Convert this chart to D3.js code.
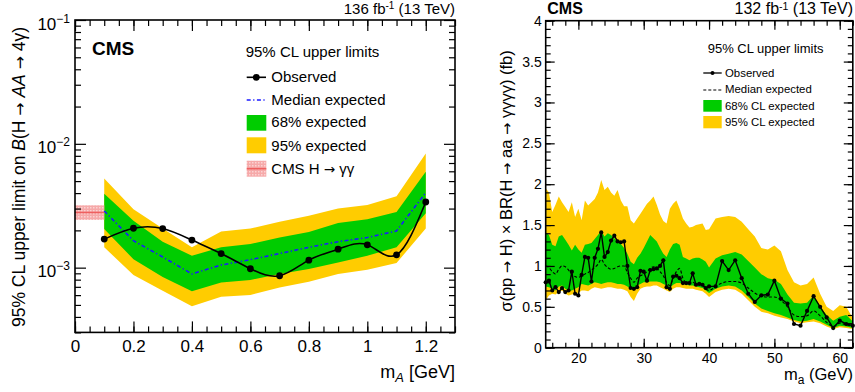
<!DOCTYPE html>
<html>
<head>
<meta charset="utf-8">
<script src="https://cdn.jsdelivr.net/npm/d3@7"></script>
<style>
  body { margin: 0; background: #fff; }
  svg { display: block; font-family: "Liberation Sans", Arial, sans-serif; }
</style>
</head>
<body>
<div id="app"></div>
<script>
// ---- left panel: H -> AA -> 4 gamma, limits on branching fraction
const leftMass = [0.1, 0.2, 0.3, 0.4, 0.5, 0.6, 0.7, 0.8, 0.9, 1.0, 1.1, 1.2];
const leftObs = [1.70e-3, 2.08e-3, 2.07e-3, 1.67e-3, 1.30e-3, 0.98e-3, 0.86e-3, 1.15e-3, 1.41e-3, 1.53e-3, 1.27e-3, 3.39e-3];
const leftExp = [2.87e-3, 1.65e-3, 1.22e-3, 0.89e-3, 1.05e-3, 1.16e-3, 1.30e-3, 1.46e-3, 1.62e-3, 1.75e-3, 1.98e-3, 4.03e-3];
const left68Hi = [3.96e-3, 2.39e-3, 1.62e-3, 1.25e-3, 1.46e-3, 1.55e-3, 1.75e-3, 1.94e-3, 2.29e-3, 2.46e-3, 2.82e-3, 5.96e-3];
const left68Lo = [2.05e-3, 1.17e-3, 0.84e-3, 0.645e-3, 0.76e-3, 0.795e-3, 0.89e-3, 0.975e-3, 1.10e-3, 1.25e-3, 1.46e-3, 2.75e-3];
const left95Hi = [5.26e-3, 2.96e-3, 2.07e-3, 1.46e-3, 1.96e-3, 2.07e-3, 2.35e-3, 2.62e-3, 3.01e-3, 3.21e-3, 3.78e-3, 8.36e-3];
const left95Lo = [1.46e-3, 0.873e-3, 0.652e-3, 0.489e-3, 0.583e-3, 0.602e-3, 0.693e-3, 0.771e-3, 0.889e-3, 0.962e-3, 1.09e-3, 2.07e-3];
const hggMass = [0, 0.1];
const hggBand = [2.43e-3, 2.79e-3, 3.19e-3]; // low, central, high
const leftXTicks = [0, 0.2, 0.4, 0.6, 0.8, 1, 1.2];
const leftYTicks = [1e-3, 1e-2, 1e-1];
const leftYExp = ["\u22123", "\u22122", "\u22121"];

// ---- right panel: H -> aa -> 4 gamma, limits on cross section x BR (fb)
const rightMass = [15, 15.5, 16, 16.5, 17, 17.5, 18, 18.5, 19, 19.5, 20, 20.5, 21, 21.5, 22, 22.5, 23, 23.5, 24, 24.5,
  25, 25.5, 26, 26.5, 27, 27.5, 28, 28.5, 29, 29.5, 30, 30.5, 31, 31.5, 32, 32.5, 33, 33.5, 34, 34.5,
  35, 35.5, 36, 36.5, 37, 37.5, 38, 38.5, 39, 39.5, 40, 41, 42, 43, 44, 45, 46, 47, 48, 49,
  50, 51, 52, 53, 54, 55, 56, 57, 58, 59, 60, 61, 62];
const rightObs = [0.80, 0.82, 0.70, 0.74, 0.68, 0.73, 0.68, 0.70, 0.93, 0.66, 0.64, 0.89, 1.11, 1.10, 0.81, 1.10, 1.21, 1.41, 1.11, 1.17,
  1.31, 1.37, 1.30, 1.29, 1.30, 1.00, 0.73, 0.72, 0.74, 0.94, 0.93, 0.82, 0.95, 0.96, 0.97, 1.00, 1.07, 0.74, 0.72, 0.87,
  0.88, 0.85, 0.79, 0.79, 0.79, 0.91, 0.77, 0.78, 0.77, 0.73, 0.75, 0.75, 1.06, 0.95, 1.07, 0.85, 0.66, 0.56, 0.64, 0.65,
  0.82, 0.60, 0.54, 0.29, 0.27, 0.45, 0.63, 0.50, 0.37, 0.24, 0.33, 0.29, 0.27];
const rightExp = [1.00, 0.98, 0.93, 0.90, 0.96, 1.00, 0.99, 0.95, 0.90, 0.87, 0.86, 0.88, 0.90, 0.92, 0.95, 0.98, 1.02, 1.08, 1.02, 0.98,
  0.96, 0.97, 0.99, 1.00, 1.00, 0.92, 0.85, 0.80, 0.85, 0.88, 0.90, 0.93, 0.97, 0.99, 0.97, 0.93, 0.88, 0.80, 0.76, 0.85,
  0.93, 0.97, 0.85, 0.80, 0.80, 0.80, 0.78, 0.77, 0.76, 0.72, 0.70, 0.75, 0.79, 0.81, 0.81, 0.79, 0.73, 0.67, 0.63, 0.62,
  0.62, 0.58, 0.50, 0.40, 0.38, 0.39, 0.45, 0.39, 0.31, 0.26, 0.30, 0.28, 0.26];
const right68Hi = [1.41, 1.38, 1.26, 1.24, 1.36, 1.38, 1.32, 1.26, 1.19, 1.26, 1.20, 1.16, 1.26, 1.27, 1.28, 1.33, 1.38, 1.43, 1.36, 1.40,
  1.38, 1.34, 1.30, 1.27, 1.22, 1.15, 1.05, 1.02, 1.10, 1.15, 1.22, 1.30, 1.38, 1.34, 1.30, 1.22, 1.15, 1.11, 1.20, 1.27,
  1.28, 1.26, 1.11, 1.09, 1.07, 1.09, 1.10, 1.10, 1.08, 1.05, 0.98, 1.09, 1.13, 1.15, 1.17, 1.14, 1.06, 0.98, 0.90, 0.85,
  0.83, 0.78, 0.65, 0.55, 0.54, 0.55, 0.64, 0.50, 0.40, 0.33, 0.38, 0.40, 0.32];
const right68Lo = [0.75, 0.74, 0.72, 0.70, 0.75, 0.76, 0.72, 0.70, 0.70, 0.72, 0.74, 0.78, 0.77, 0.76, 0.78, 0.80, 0.79, 0.78, 0.79, 0.80,
  0.80, 0.79, 0.78, 0.78, 0.77, 0.75, 0.72, 0.72, 0.76, 0.78, 0.80, 0.80, 0.81, 0.81, 0.81, 0.80, 0.78, 0.76, 0.73, 0.77,
  0.79, 0.79, 0.78, 0.77, 0.76, 0.76, 0.75, 0.74, 0.73, 0.70, 0.67, 0.72, 0.75, 0.76, 0.75, 0.70, 0.62, 0.54, 0.48, 0.45,
  0.42, 0.40, 0.37, 0.34, 0.32, 0.33, 0.35, 0.32, 0.28, 0.24, 0.27, 0.26, 0.24];
const right95Hi = [1.95, 1.90, 1.66, 1.75, 1.85, 1.78, 1.72, 1.66, 1.78, 1.60, 1.70, 1.56, 1.80, 1.74, 1.78, 1.82, 1.90, 2.05, 1.93, 1.97,
  1.90, 1.86, 1.93, 1.80, 1.73, 1.73, 1.56, 1.52, 1.58, 1.64, 1.70, 1.76, 1.80, 1.85, 1.75, 1.63, 1.55, 1.52, 1.70, 1.76,
  1.80, 1.70, 1.58, 1.52, 1.47, 1.48, 1.50, 1.51, 1.52, 1.44, 1.45, 1.58, 1.60, 1.61, 1.60, 1.54, 1.45, 1.36, 1.22, 1.20,
  1.25, 1.18, 0.95, 0.80, 0.76, 0.78, 0.86, 0.66, 0.50, 0.45, 0.52, 0.50, 0.36];
const right95Lo = [0.58, 0.64, 0.66, 0.65, 0.68, 0.70, 0.66, 0.64, 0.65, 0.66, 0.67, 0.70, 0.70, 0.69, 0.72, 0.74, 0.73, 0.72, 0.73, 0.74,
  0.74, 0.73, 0.72, 0.72, 0.71, 0.69, 0.62, 0.57, 0.66, 0.72, 0.74, 0.75, 0.75, 0.76, 0.76, 0.74, 0.72, 0.70, 0.68, 0.72,
  0.74, 0.74, 0.73, 0.72, 0.72, 0.72, 0.71, 0.70, 0.69, 0.66, 0.62, 0.68, 0.71, 0.72, 0.71, 0.66, 0.58, 0.50, 0.44, 0.42,
  0.39, 0.37, 0.35, 0.32, 0.30, 0.31, 0.32, 0.30, 0.26, 0.23, 0.25, 0.24, 0.23];
const rightXTicks = [20, 30, 40, 50, 60];
const rightYTicks = [0, 0.5, 1, 1.5, 2, 2.5, 3, 3.5, 4];

const green = "#00cc00";
const yellow = "#ffcc00";
const font = "Liberation Sans, Arial, sans-serif";

const svg = d3.select("#app").append("svg").attr("width", 855).attr("height", 392);

const defs = svg.append("defs");
const pat = defs.append("pattern").attr("id", "hgg").attr("width", 3).attr("height", 3)
  .attr("patternUnits", "userSpaceOnUse");
pat.append("rect").attr("width", 3).attr("height", 3).attr("fill", "#f6a9a9");
pat.append("rect").attr("width", 1.5).attr("height", 1.5).attr("fill", "#fbd3d3");

// writes text into a <text>, arrows get a font with a proper long arrow
function richText(t, str) {
  str.split("\u2192").forEach((part, i) => {
    if (i > 0) t.append("tspan").attr("font-family", "DejaVu Sans").attr("font-size", "0.9em").text("\u2192");
    if (part) t.append("tspan").text(part);
  });
  return t;
}

// ROOT style: ticks inside the frame on all four sides
function drawFrame(g, x, y, box, o) {
  const style = a => a.attr("font-family", font).attr("font-size", o.fontSize)
    .call(s => s.select(".domain").remove())
    .call(s => s.selectAll(".tick line").attr("stroke-width", 1.2));
  g.append("g").attr("transform", `translate(0,${box.bottom})`)
    .call(d3.axisBottom(x).tickValues(o.xMajor).tickSize(-o.major).tickPadding(o.xPad).tickFormat(d => d)).call(style);
  g.append("g").attr("transform", `translate(0,${box.bottom})`)
    .call(d3.axisBottom(x).tickValues(o.xMinor).tickSize(-o.minor).tickFormat("")).call(style);
  g.append("g").attr("transform", `translate(0,${box.top})`)
    .call(d3.axisTop(x).tickValues(o.xMajor).tickSize(-o.major).tickFormat("")).call(style);
  g.append("g").attr("transform", `translate(0,${box.top})`)
    .call(d3.axisTop(x).tickValues(o.xMinor).tickSize(-o.minor).tickFormat("")).call(style);
  g.append("g").attr("transform", `translate(${box.left},0)`)
    .call(d3.axisLeft(y).tickValues(o.yMajor).tickSize(-o.major).tickPadding(o.yPad).tickFormat(o.yFormat)).call(style);
  g.append("g").attr("transform", `translate(${box.left},0)`)
    .call(d3.axisLeft(y).tickValues(o.yMinor).tickSize(-o.minor).tickFormat("")).call(style);
  g.append("g").attr("transform", `translate(${box.right},0)`)
    .call(d3.axisRight(y).tickValues(o.yMajor).tickSize(-o.major).tickFormat("")).call(style);
  g.append("g").attr("transform", `translate(${box.right},0)`)
    .call(d3.axisRight(y).tickValues(o.yMinor).tickSize(-o.minor).tickFormat("")).call(style);
  g.append("rect").attr("x", box.left).attr("y", box.top)
    .attr("width", box.right - box.left).attr("height", box.bottom - box.top)
    .attr("fill", "none").attr("stroke", "black").attr("stroke-width", 1.6);
}

// ================= LEFT =================
const L = { left: 75, right: 455, top: 20, bottom: 332.4 };
const xL = d3.scaleLinear().domain([0, 1.3]).range([L.left, L.right]);
const yL = d3.scaleLog().domain([3e-4, 0.1]).range([L.bottom, L.top]);
const gL = svg.append("g");

const leftRows = leftMass.map((m, i) => ({
  m, obs: leftObs[i], exp: leftExp[i],
  lo68: left68Lo[i], hi68: left68Hi[i], lo95: left95Lo[i], hi95: left95Hi[i]
}));

gL.append("path").datum(leftRows).attr("fill", yellow)
  .attr("d", d3.area().x(d => xL(d.m)).y0(d => yL(d.lo95)).y1(d => yL(d.hi95)));
gL.append("path").datum(leftRows).attr("fill", green)
  .attr("d", d3.area().x(d => xL(d.m)).y0(d => yL(d.lo68)).y1(d => yL(d.hi68)));

// CMS H -> gamma gamma band
gL.append("rect").attr("x", xL(hggMass[0])).attr("width", xL(hggMass[1]) - xL(hggMass[0]))
  .attr("y", yL(hggBand[2])).attr("height", yL(hggBand[0]) - yL(hggBand[2])).attr("fill", "url(#hgg)");
gL.append("line").attr("x1", xL(hggMass[0])).attr("x2", xL(hggMass[1]))
  .attr("y1", yL(hggBand[1])).attr("y2", yL(hggBand[1])).attr("stroke", "#ee5f5f").attr("stroke-width", 1.6);

gL.append("path").datum(leftRows).attr("fill", "none").attr("stroke", "#1a1aff")
  .attr("stroke-width", 1.6).attr("stroke-dasharray", "4,2.5,1.2,2.5")
  .attr("d", d3.line().x(d => xL(d.m)).y(d => yL(d.exp)));
gL.append("path").datum(leftRows).attr("fill", "none").attr("stroke", "black").attr("stroke-width", 1.6)
  .attr("d", d3.line().curve(d3.curveNatural).x(d => xL(d.m)).y(d => yL(d.obs)));
gL.selectAll("circle.obs").data(leftRows).join("circle").attr("class", "obs")
  .attr("cx", d => xL(d.m)).attr("cy", d => yL(d.obs)).attr("r", 3.4).attr("fill", "black");

const leftMinorY = [];
[1e-4, 1e-3, 1e-2].forEach(dec => [2, 3, 4, 5, 6, 7, 8, 9].forEach(k => {
  const v = k * dec;
  if (v >= 3e-4 && v < 0.1) leftMinorY.push(v);
}));
drawFrame(gL, xL, yL, L, {
  xMajor: leftXTicks, xMinor: d3.range(0, 1.3001, 0.05), yMajor: leftYTicks, yMinor: leftMinorY,
  major: 11, minor: 6, xPad: 8, yPad: 4, fontSize: 17, yFormat: ""
});
// 10^n labels
leftYTicks.forEach((v, i) => {
  const t = gL.append("text").attr("x", 70).attr("y", yL(v) + 9.5).attr("text-anchor", "end")
    .attr("font-size", 17);
  t.append("tspan").text("10");
  t.append("tspan").attr("dy", -7).attr("font-size", 12).text(leftYExp[i]);
});

gL.append("text").attr("x", 92).attr("y", 55).attr("font-size", 19).attr("font-weight", "bold").text("CMS");
const lumL = gL.append("text").attr("x", 455).attr("y", 14).attr("text-anchor", "end").attr("font-size", 15);
lumL.append("tspan").text("136 fb");
lumL.append("tspan").attr("dy", -5).attr("font-size", 10).text("-1");
lumL.append("tspan").attr("dy", 5).text(" (13 TeV)");

const xtL = gL.append("text").attr("x", 455).attr("y", 378).attr("text-anchor", "end").attr("font-size", 18);
xtL.append("tspan").text("m");
xtL.append("tspan").attr("dy", 4).attr("font-size", 13).attr("font-style", "italic").text("A");
xtL.append("tspan").attr("dy", -4).text(" [GeV]");

const ytL = gL.append("text").attr("transform", "translate(24.6,177) rotate(-90)")
  .attr("text-anchor", "middle").attr("font-size", 17.5);
ytL.append("tspan").text("95% CL upper limit on ");
ytL.append("tspan").attr("font-style", "italic").text("B");
richText(ytL, "(H \u2192 ");
ytL.append("tspan").attr("font-style", "italic").text("AA");
richText(ytL, " \u2192 4\u03b3)");

// legend
const lgL = gL.append("g").attr("font-size", 15);
lgL.append("text").attr("x", 245.7).attr("y", 57.3).text("95% CL upper limits");
lgL.append("line").attr("x1", 246.7).attr("x2", 266).attr("y1", 77.3).attr("y2", 77.3)
  .attr("stroke", "black").attr("stroke-width", 1.6);
lgL.append("circle").attr("cx", 256.3).attr("cy", 77.3).attr("r", 3.4);
lgL.append("text").attr("x", 271.3).attr("y", 82).text("Observed");
lgL.append("line").attr("x1", 246.7).attr("x2", 266).attr("y1", 100).attr("y2", 100)
  .attr("stroke", "#1a1aff").attr("stroke-width", 1.6).attr("stroke-dasharray", "4,2.5,1.2,2.5");
lgL.append("text").attr("x", 271.3).attr("y", 105).text("Median expected");
lgL.append("rect").attr("x", 246.7).attr("y", 115).attr("width", 19.6).attr("height", 15.7).attr("fill", green);
lgL.append("text").attr("x", 271.3).attr("y", 127.3).text("68% expected");
lgL.append("rect").attr("x", 246.7).attr("y", 137.3).attr("width", 19.6).attr("height", 16).attr("fill", yellow);
lgL.append("text").attr("x", 271.3).attr("y", 150.7).text("95% expected");
lgL.append("rect").attr("x", 246.7).attr("y", 160.7).attr("width", 19.6).attr("height", 16).attr("fill", "url(#hgg)");
lgL.append("line").attr("x1", 246.7).attr("x2", 266.3).attr("y1", 168.7).attr("y2", 168.7)
  .attr("stroke", "#ee5f5f").attr("stroke-width", 1.6);
richText(lgL.append("text").attr("x", 271.3).attr("y", 174), "CMS H \u2192 \u03b3\u03b3");

// ================= RIGHT =================
const R = { left: 545.7, right: 852.8, top: 20.7, bottom: 347.7 };
const xR = d3.scaleLinear().domain([15, 62]).range([R.left, R.right]);
const yR = d3.scaleLinear().domain([0, 4]).range([R.bottom, R.top]);
const gR = svg.append("g");

const rightRows = rightMass.map((m, i) => ({
  m, obs: rightObs[i], exp: rightExp[i],
  lo68: right68Lo[i], hi68: right68Hi[i], lo95: right95Lo[i], hi95: right95Hi[i]
}));

gR.append("path").datum(rightRows).attr("fill", yellow)
  .attr("d", d3.area().x(d => xR(d.m)).y0(d => yR(d.lo95)).y1(d => yR(d.hi95)));
gR.append("path").datum(rightRows).attr("fill", green)
  .attr("d", d3.area().x(d => xR(d.m)).y0(d => yR(d.lo68)).y1(d => yR(d.hi68)));
gR.append("path").datum(rightRows).attr("fill", "none").attr("stroke", "black")
  .attr("stroke-width", 1.1).attr("stroke-dasharray", "3,2")
  .attr("d", d3.line().curve(d3.curveMonotoneX).x(d => xR(d.m)).y(d => yR(d.exp)));
gR.append("path").datum(rightRows).attr("fill", "none").attr("stroke", "black").attr("stroke-width", 1.4)
  .attr("d", d3.line().x(d => xR(d.m)).y(d => yR(d.obs)));
gR.selectAll("circle.obs").data(rightRows).join("circle").attr("class", "obs")
  .attr("cx", d => xR(d.m)).attr("cy", d => yR(d.obs)).attr("r", 2.1).attr("fill", "black");

drawFrame(gR, xR, yR, R, {
  xMajor: rightXTicks, xMinor: d3.range(16, 62.01, 2), yMajor: rightYTicks, yMinor: d3.range(0, 4.001, 0.1),
  major: 9, minor: 5, xPad: 5, yPad: 4, fontSize: 14, yFormat: d => d
});

gR.append("text").attr("x", 547.3).attr("y", 14).attr("font-size", 16).attr("font-weight", "bold").text("CMS");
const lumR = gR.append("text").attr("x", 853).attr("y", 14).attr("text-anchor", "end").attr("font-size", 16);
lumR.append("tspan").text("132 fb");
lumR.append("tspan").attr("dy", -4.5).attr("font-size", 10.5).text("-1");
lumR.append("tspan").attr("dy", 4.5).text(" (13 TeV)");

const xtR = gR.append("text").attr("x", 853).attr("y", 380).attr("text-anchor", "end").attr("font-size", 16.5);
xtR.append("tspan").text("m");
xtR.append("tspan").attr("dy", 4).attr("font-size", 12).text("a");
xtR.append("tspan").attr("dy", -4).text(" (GeV)");

richText(gR.append("text").attr("transform", "translate(511.5,181) rotate(-90)")
  .attr("text-anchor", "middle").attr("font-size", 16.5),
  "\u03c3(pp \u2192 H) \u00d7 BR(H \u2192 aa \u2192 \u03b3\u03b3\u03b3\u03b3) (fb)");

const lgR = gR.append("g").attr("font-size", 11.4);
lgR.append("text").attr("x", 707.7).attr("y", 52.7).attr("font-size", 13).text("95% CL upper limits");
lgR.append("line").attr("x1", 703.3).attr("x2", 721.7).attr("y1", 73).attr("y2", 73)
  .attr("stroke", "black").attr("stroke-width", 1.3);
lgR.append("circle").attr("cx", 712.5).attr("cy", 73).attr("r", 2);
lgR.append("text").attr("x", 725).attr("y", 76.7).text("Observed");
lgR.append("line").attr("x1", 703.3).attr("x2", 721.7).attr("y1", 90).attr("y2", 90)
  .attr("stroke", "black").attr("stroke-width", 1.1).attr("stroke-dasharray", "3,2");
lgR.append("text").attr("x", 725).attr("y", 93.3).text("Median expected");
lgR.append("rect").attr("x", 703.3).attr("y", 100).attr("width", 18.4).attr("height", 11.7).attr("fill", green);
lgR.append("text").attr("x", 725).attr("y", 110).text("68% CL expected");
lgR.append("rect").attr("x", 703.3).attr("y", 116).attr("width", 18.4).attr("height", 12.3).attr("fill", yellow);
lgR.append("text").attr("x", 725).attr("y", 125.7).text("95% CL expected");
</script>
</body>
</html>
